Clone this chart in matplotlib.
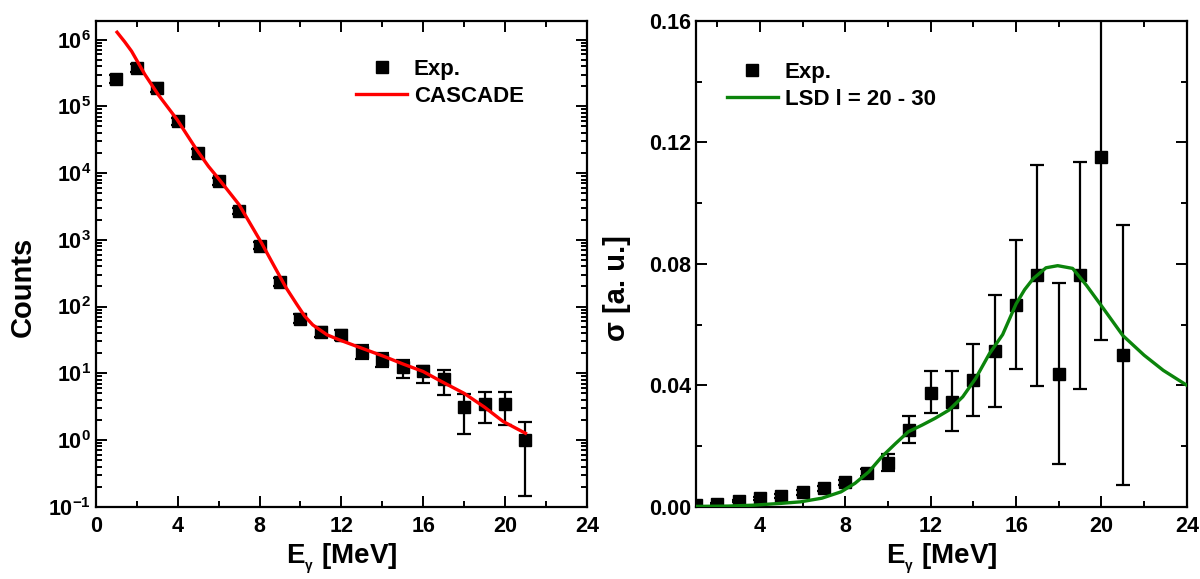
import numpy as np
import matplotlib
matplotlib.use("Agg")
import matplotlib.pyplot as plt
from matplotlib.ticker import MultipleLocator, LogLocator, FuncFormatter, NullFormatter

plt.rcParams["font.family"] = ["Liberation Sans", "DejaVu Sans"]
plt.rcParams["font.weight"] = "bold"
plt.rcParams["mathtext.fontset"] = "custom"
plt.rcParams["mathtext.rm"] = "Liberation Sans:bold"
plt.rcParams["mathtext.it"] = "Liberation Sans:bold"
plt.rcParams["mathtext.bf"] = "Liberation Sans:bold"
plt.rcParams["mathtext.default"] = "rm"

# --- left panel: gamma spectrum (counts) ---
e_exp = [1, 2, 3, 4, 5, 6, 7, 8, 9, 10, 11, 12, 13, 14, 15, 16, 17, 18, 19, 20, 21]
counts = [2.6e5, 3.8e5, 1.9e5, 6.0e4, 2.0e4, 7.5e3, 2.7e3, 820, 237, 65, 42, 37,
          21, 16, 12.6, 10.8, 8.1, 3.1, 3.4, 3.5, 1.0]
counts_lo = [2.2e5, 3.3e5, 1.65e5, 5.3e4, 1.75e4, 6.6e3, 2.4e3, 720, 205, 56, 35, 31,
             16.2, 12.3, 8.6, 7.2, 4.7, 1.23, 1.78, 1.68, 0.146]
counts_hi = [3.0e5, 4.3e5, 2.2e5, 6.8e4, 2.3e4, 8.5e3, 3.0e3, 930, 270, 78, 50, 44,
             26.6, 20.4, 15.8, 12.9, 11.0, 4.9, 5.2, 5.3, 1.84]

e_cascade = [1.03, 1.4, 1.74, 2.39, 3.04, 3.97, 4.92, 5.5, 6.0, 7.0, 8.1, 8.7, 9.3, 9.8,
             10.2, 10.6, 11.3, 11.9, 13.0, 14.1, 15.0, 16.0, 16.9, 18.0, 19.0, 19.9, 21.0]
cascade = [1.29e6, 9.3e5, 6.7e5, 3.0e5, 1.5e5, 6.3e4, 2.24e4, 1.26e4, 8.2e3, 3.35e3, 890,
           410, 190, 110, 72, 53, 37.6, 31.6, 23.7, 17.8, 13.8, 10.6, 7.5, 5.0, 3.1, 1.9, 1.26]

# --- right panel: strength function ---
sigma = [0.0005, 0.0008, 0.0019, 0.0027, 0.0036, 0.0047, 0.0060, 0.0080, 0.0112, 0.0145,
         0.0254, 0.0375, 0.0345, 0.0416, 0.0512, 0.0665, 0.0762, 0.0438, 0.0762, 0.1153, 0.0499]
sigma_lo = [0.0002, 0.0005, 0.0015, 0.0022, 0.0030, 0.0040, 0.0052, 0.0071, 0.0100, 0.0118,
            0.0210, 0.0309, 0.0249, 0.0298, 0.0329, 0.0455, 0.0398, 0.0140, 0.0387, 0.0548, 0.0073]
sigma_hi = [0.0008, 0.0011, 0.0023, 0.0032, 0.0042, 0.0054, 0.0068, 0.0089, 0.0124, 0.0172,
            0.0298, 0.0446, 0.0446, 0.0537, 0.0696, 0.0877, 0.1127, 0.0738, 0.1136, 0.176, 0.0928]

e_lsd = [1.0, 2.5, 3.7, 5.0, 5.9, 6.9, 7.8, 8.45, 9.1, 9.7, 10.35, 10.95, 11.6, 12.2, 12.85,
         13.5, 14.1, 14.75, 15.37, 16.0, 16.4, 16.8, 17.4, 17.95, 18.65, 19.3, 20.1, 21.0,
         22.0, 22.9, 24.0]
sig_lsd = [0.0001, 0.0002, 0.0005, 0.0011, 0.0016, 0.0028, 0.0049, 0.0077, 0.0115, 0.0164,
           0.0208, 0.0247, 0.0269, 0.0291, 0.0318, 0.0362, 0.0422, 0.0504, 0.0567, 0.0668,
           0.0715, 0.0751, 0.0787, 0.0794, 0.0785, 0.0729, 0.0652, 0.0564, 0.0499, 0.0449,
           0.0400]

fig = plt.figure(figsize=(12, 5.79), dpi=100)
ax1 = fig.add_axes([0.080, 0.1249, 0.409, 0.8388])
ax2 = fig.add_axes([0.580, 0.1249, 0.409, 0.8388])

xlabel = r"E$_{{}_{\gamma}}$ [MeV]"


def style_axes(ax):
    for s in ax.spines.values():
        s.set_linewidth(1.6)
    ax.tick_params(which="both", direction="in", top=True, right=True, width=1.4,
                   labelsize=15.5)
    ax.tick_params(which="major", length=8)
    ax.tick_params(which="minor", length=4)
    ax.xaxis.set_major_locator(MultipleLocator(4))
    ax.xaxis.set_minor_locator(MultipleLocator(2))
    ax.tick_params(axis="x", pad=7)


# left
c = np.array(counts)
ax1.errorbar(e_exp, counts, yerr=[c - np.array(counts_lo), np.array(counts_hi) - c],
             fmt="none", ecolor="black", elinewidth=1.6, capsize=5, capthick=1.6, zorder=2)
ax1.plot(e_exp, counts, "s", color="black", ms=9, label="Exp.", zorder=3)
ax1.plot(e_cascade, cascade, color="red", lw=2.4, label="CASCADE", zorder=4)
ax1.set_yscale("log")
ax1.set_xlim(0, 24)
ax1.set_ylim(0.1, 1.9e6)
ax1.yaxis.set_major_locator(LogLocator(base=10, numticks=20))
ax1.yaxis.set_minor_locator(LogLocator(base=10, subs=np.arange(2, 10), numticks=20))
ax1.yaxis.set_minor_formatter(NullFormatter())
ax1.yaxis.set_major_formatter(FuncFormatter(lambda v, p: r"$10^{%d}$" % round(np.log10(v))))
style_axes(ax1)
ax1.set_xlabel(xlabel, fontsize=20, fontweight="bold", labelpad=3)
ax1.set_ylabel("Counts", fontsize=21, fontweight="bold")
ax1.yaxis.set_label_coords(-0.12, 0.453)
ax1.legend(loc="upper left", bbox_to_anchor=(0.53, 0.922), frameon=False, fontsize=16,
           handlelength=2.3, handletextpad=0.3, borderpad=0, borderaxespad=0,
           labelspacing=0.27)

# right
s = np.array(sigma)
ax2.errorbar(e_exp, sigma, yerr=[s - np.array(sigma_lo), np.array(sigma_hi) - s],
             fmt="none", ecolor="black", elinewidth=1.6, capsize=5, capthick=1.6, zorder=2)
ax2.plot(e_exp, sigma, "s", color="black", ms=9, label="Exp.", zorder=3)
ax2.plot(e_lsd, sig_lsd, color="#0b840b", lw=2.4, label="LSD l = 20 - 30", zorder=4)
ax2.set_xlim(1, 24)
ax2.set_ylim(0, 0.16)
ax2.yaxis.set_major_locator(MultipleLocator(0.04))
ax2.yaxis.set_minor_locator(MultipleLocator(0.02))
ax2.yaxis.set_major_formatter(FuncFormatter(lambda v, p: "%.2f" % v))
style_axes(ax2)
ax2.set_xlabel(xlabel, fontsize=20, fontweight="bold", labelpad=3)
ax2.set_ylabel("σ [a. u.]", fontsize=21, fontweight="bold")
ax2.yaxis.set_label_coords(-0.133, 0.45)
ax2.legend(loc="upper left", bbox_to_anchor=(0.063, 0.916), frameon=False, fontsize=16,
           handlelength=2.3, handletextpad=0.3, borderpad=0, borderaxespad=0,
           labelspacing=0.27)

fig.savefig("out.png", dpi=100)
